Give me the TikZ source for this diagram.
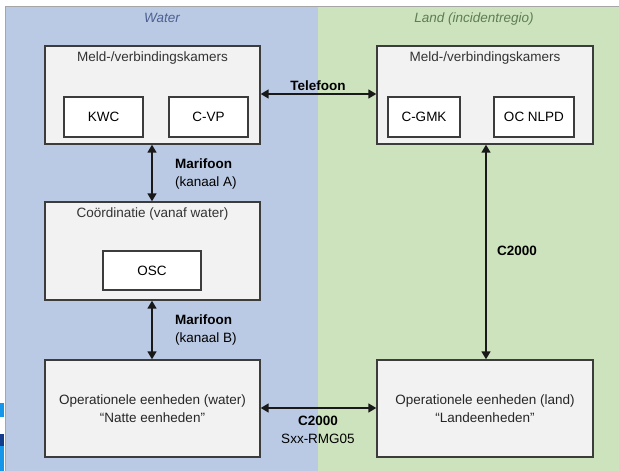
\documentclass[tikz,border=0pt]{standalone}
\usepackage{fontspec}
\setmainfont{Liberation Sans}
\usetikzlibrary{arrows.meta}
\definecolor{waterbg}{RGB}{187,202,228}
\definecolor{landbg}{RGB}{205,227,190}
\definecolor{boxfill}{RGB}{242,242,242}
\definecolor{boxline}{RGB}{60,60,60}
\definecolor{waterlbl}{RGB}{75,95,145}
\definecolor{landlbl}{RGB}{95,125,85}
\definecolor{edgeblue}{RGB}{20,150,235}
\definecolor{edgedark}{RGB}{20,60,140}
\begin{document}
\begin{tikzpicture}[x=1pt,y=-1pt,
  bigbox/.style={draw=boxline,line width=1.4pt,fill=boxfill,inner sep=0pt},
  smallbox/.style={draw=boxline,line width=1.4pt,fill=white,inner sep=0pt,font=\fontsize{13.5}{16}\selectfont},
  boxtitle/.style={font=\fontsize{13.5}{16}\selectfont,text=black!80,anchor=base},
  conn/.style={line width=1.6pt,black!90,{Triangle[length=8pt,width=9pt]}-{Triangle[length=8pt,width=9pt]}},
  clabel/.style={font=\fontsize{13.5}{17.5}\selectfont,align=left,inner sep=0pt},
  zone/.style={font=\fontsize{13.5}{16}\selectfont\itshape,anchor=base}]
\useasboundingbox (0,0) rectangle (619,471);
\fill[white] (0,0) rectangle (619,471);
% zones
\fill[waterbg] (5,6) rectangle (318,471);
\fill[landbg] (318,6) rectangle (619,471);
\draw[black!35,line width=0.8pt] (5,471) -- (5,6) -- (619,6);
\node[zone,text=waterlbl] (zw) at (162,22) {Water};
\node[zone,text=landlbl] (zl) at (474,22) {Land (incidentregio)};
% edge artifacts
\fill[edgeblue] (0,403) rectangle (3.5,417);
\fill[edgedark] (0,434) rectangle (3.5,446);
\fill[edgeblue] (0,446) rectangle (3.5,471);
% water boxes
\node[bigbox,minimum width=215pt,minimum height=98pt] (wm) at (152.5,95) {};
\node[boxtitle] (wmt) at (152.5,61) {Meld-/verbindingskamers};
\node[smallbox,minimum width=79pt,minimum height=40pt] (kwc) at (103.5,117) {KWC};
\node[smallbox,minimum width=79pt,minimum height=40pt] (cvp) at (208.5,117) {C-VP};
\node[bigbox,minimum width=215pt,minimum height=98pt] (wc) at (152.5,251) {};
\node[boxtitle] (wct) at (152.5,217) {Coördinatie (vanaf water)};
\node[smallbox,minimum width=98pt,minimum height=39pt] (osc) at (152,270.5) {OSC};
\node[bigbox,minimum width=215pt,minimum height=97pt,align=center,font=\fontsize{13.5}{17.5}\selectfont,text=black!85] (wo) at (152.5,408.5) {Operationele eenheden (water)\\``Natte eenheden''};
% land boxes
\node[bigbox,minimum width=216pt,minimum height=98pt] (lm) at (485,95) {};
\node[boxtitle] (lmt) at (485,61) {Meld-/verbindingskamers};
\node[smallbox,minimum width=72pt,minimum height=40pt] (cgmk) at (424,117) {C-GMK};
\node[smallbox,minimum width=80pt,minimum height=40pt] (ocnlpd) at (534,117) {OC NLPD};
\node[bigbox,minimum width=216pt,minimum height=97pt,align=center,font=\fontsize{13.5}{17.5}\selectfont,text=black!85] (lo) at (485,408.5) {Operationele eenheden (land)\\``Landeenheden''};
% connectors
\draw[conn] (wm.east |- 0,94) -- (lm.west |- 0,94);
\node[clabel,font=\fontsize{13.5}{17.5}\selectfont\bfseries] (tel) at (318,86) {Telefoon};
\draw[conn] (wm.south -| 152,0) -- (wc.north -| 152,0);
\node[clabel,anchor=west] (ma) at (175,174) {\textbf{Marifoon}\\(kanaal A)};
\draw[conn] (wc.south -| 152,0) -- (wo.north -| 152,0);
\node[clabel,anchor=west] (mb) at (175,330) {\textbf{Marifoon}\\(kanaal B)};
\draw[conn] (lm.south -| 486,0) -- (lo.north -| 486,0);
\node[clabel,anchor=west,font=\fontsize{13.5}{17.5}\selectfont\bfseries] (c2v) at (497,251) {C2000};
\draw[conn] (wo.east |- 0,408) -- (lo.west |- 0,408);
\node[clabel,align=center] (c2h) at (318,430) {\textbf{C2000}\\Sxx-RMG05};
\end{tikzpicture}
\end{document}
